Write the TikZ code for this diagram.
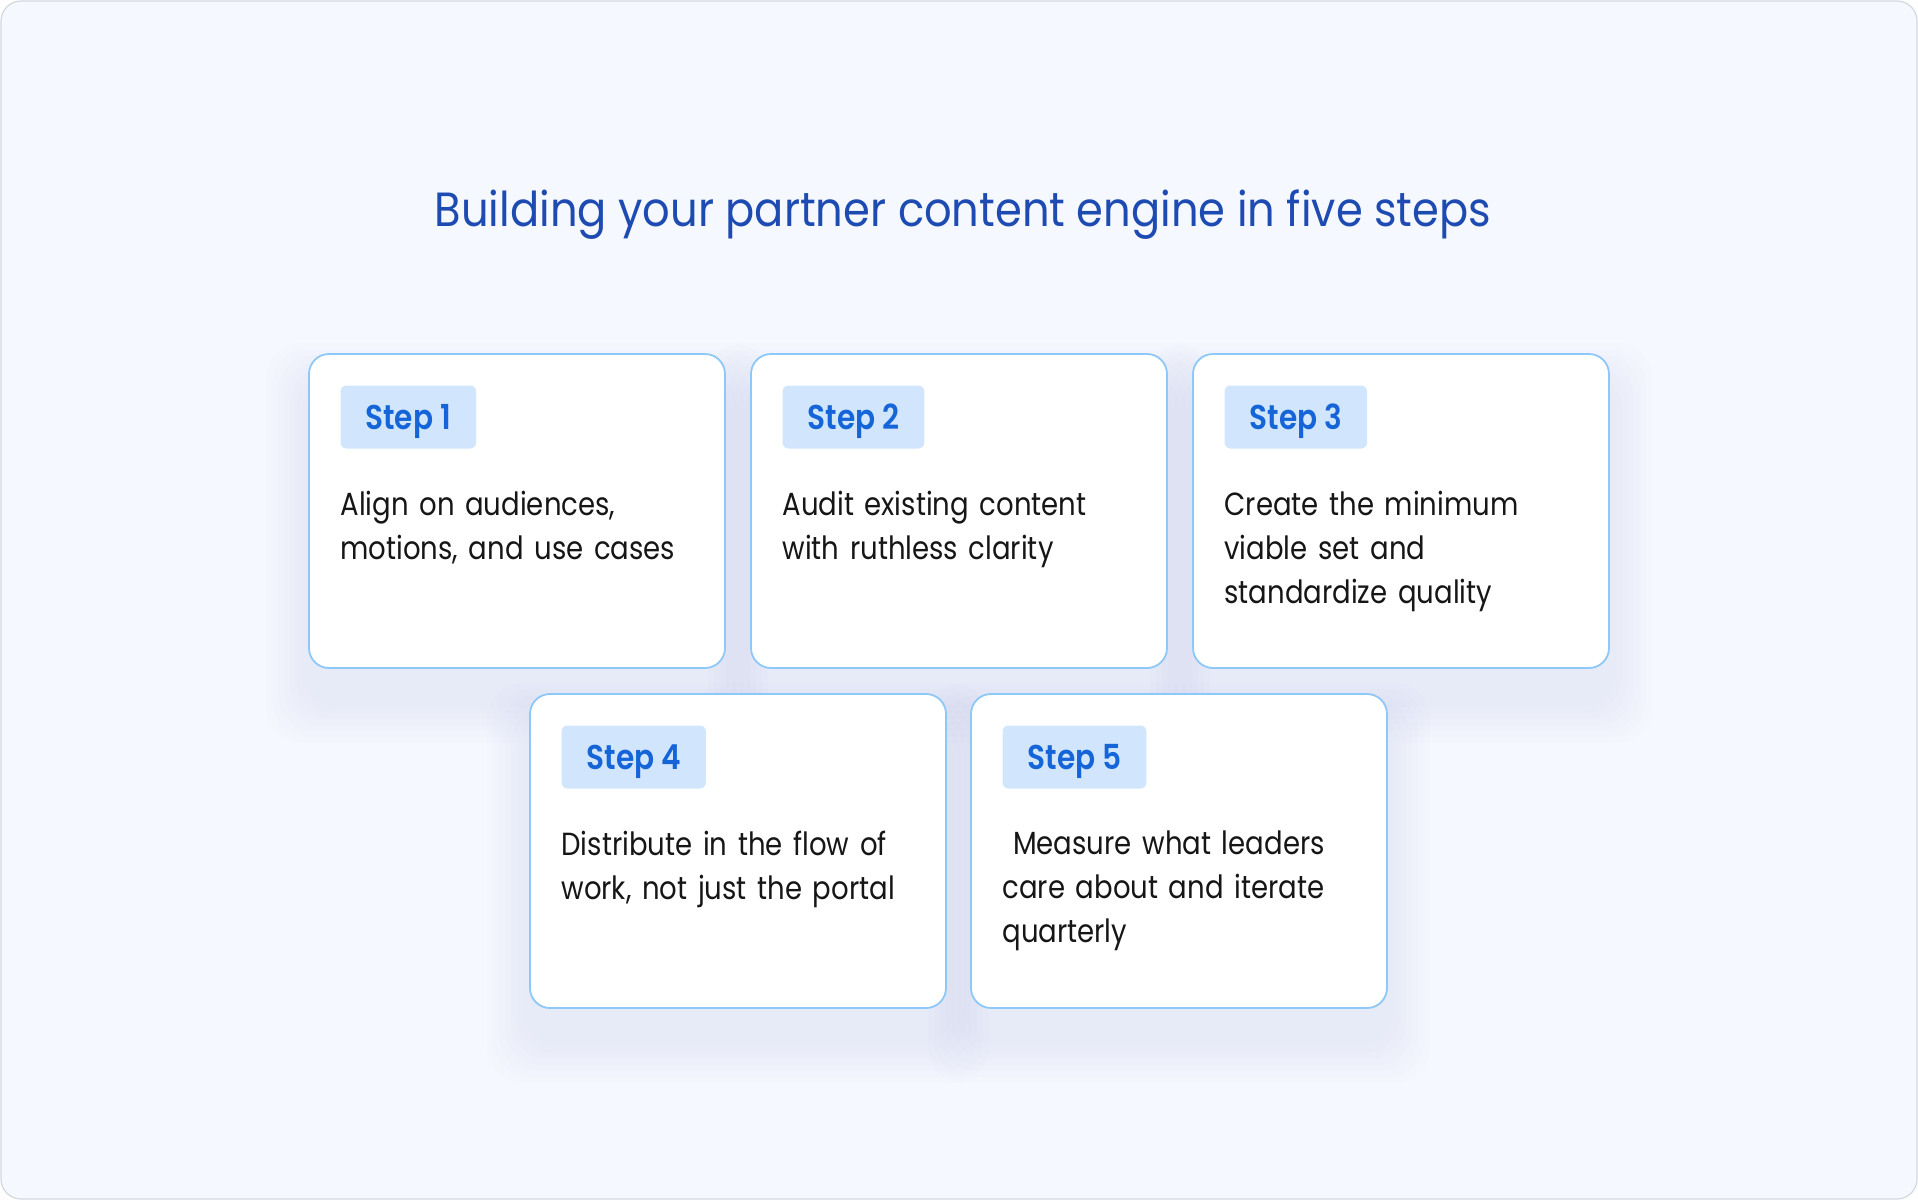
\documentclass[tikz,border=0pt]{standalone}
\usepackage{fontspec}
\setmainfont{Poppins}[FakeStretch=0.86, BoldFont={Poppins SemiBold}]
\newfontfamily\titlefont{Poppins}[FakeStretch=0.9]
\usetikzlibrary{positioning,backgrounds}

\definecolor{pagebg}{HTML}{F5F8FE}
\definecolor{frameline}{HTML}{D3D7DE}
\definecolor{cardline}{HTML}{8DC8F8}
\definecolor{badgefill}{HTML}{D1E6FD}
\definecolor{stepblue}{HTML}{1565D8}
\definecolor{titleblue}{HTML}{1E4BB2}
\definecolor{bodytext}{HTML}{161616}
\definecolor{glowblue}{HTML}{8FA8E8}

\begin{document}
\begin{tikzpicture}[x=0.5pt,y=-0.5pt,
	card/.style={draw=cardline, line width=0.9pt, fill=white, rounded corners=10pt,
		minimum width=208pt, minimum height=157pt, inner sep=0pt},
	glow/.style={fill=glowblue, fill opacity=0.02, rounded corners=18pt},
	badge/.style={fill=badgefill, rounded corners=3pt, text=stepblue, inner xsep=12.5pt,
		text height=12.4pt, text depth=0pt, minimum height=31.5pt,
		font=\fontsize{17.2}{20}\selectfont\bfseries},
	body/.style={text=bodytext, inner sep=0pt, align=left, text width=180pt,
		font=\fontsize{16}{22}\selectfont}]
	\useasboundingbox (0,0) rectangle (1918,1200);
	\node[anchor=base, text=titleblue, font=\titlefont\fontsize{24}{28}\selectfont] (title) at (963,226)
		{Building your partner content engine in five steps};
	% top row
	\node[card] (card1) at (517,511) {};
	\node[card] (card2) at (959,511) {};
	\node[card] (card3) at (1401,511) {};
	% bottom row
	\node[card] (card4) at (738,851) {};
	\node[card] (card5) at (1179,851) {};
	% page and soft glow under the cards
	\begin{scope}[on background layer]
		\draw[fill=pagebg, draw=frameline, line width=0.6pt, rounded corners=10pt] (1,1) rectangle (1917,1199);
		\foreach \c in {card1,card2,card3,card4,card5}
			\foreach \r in {6,12,...,42}
				\fill[glow] ([shift={(-\r,-\r+32)}]\c.north west) rectangle ([shift={(\r,\r+32)}]\c.south east);
	\end{scope}
	% badges
	\node[badge, below right=16pt and 16pt of card1.north west] (step1) {Step 1};
	\node[badge, below right=16pt and 16pt of card2.north west] (step2) {Step 2};
	\node[badge, below right=16pt and 16pt of card3.north west] (step3) {Step 3};
	\node[badge, below right=16pt and 16pt of card4.north west] (step4) {Step 4};
	\node[badge, below right=16pt and 16pt of card5.north west] (step5) {Step 5};
	% texts
	\node[body, below right=21pt and 0pt of step1.south west] (txt1) {Align on audiences,\\motions, and use cases};
	\node[body, below right=21pt and 0pt of step2.south west] (txt2) {Audit existing content\\with ruthless clarity};
	\node[body, below right=21pt and 0pt of step3.south west] (txt3) {Create the minimum\\viable set and\\standardize quality};
	\node[body, below right=21pt and 0pt of step4.south west] (txt4) {Distribute in the flow of\\work, not just the portal};
	\node[body, below right=21pt and 0pt of step5.south west] (txt5) {\ Measure what leaders\\care about and iterate\\quarterly};
\end{tikzpicture}
\end{document}
